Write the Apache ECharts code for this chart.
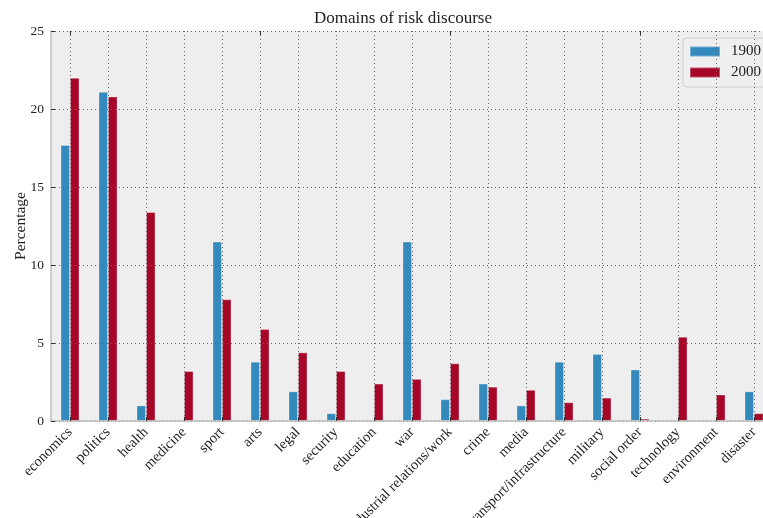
<!DOCTYPE html>
<html>
<head>
<meta charset="utf-8">
<script src="https://cdn.jsdelivr.net/npm/echarts@6/dist/echarts.min.js"></script>
<style>
  html, body { margin: 0; padding: 0; background: #ffffff; }
  #chart { width: 763px; height: 518px; }
</style>
</head>
<body>
<div id="chart"></div>
<script>
// Domains of risk discourse, share (%) per domain in 1900 and 2000
const categories = [
  'economics', 'politics', 'health', 'medicine', 'sport', 'arts', 'legal',
  'security', 'education', 'war', 'industrial relations/work', 'crime',
  'media', 'transport/infrastructure', 'military', 'social order',
  'technology', 'environment', 'disaster'
];
const values1900 = [17.7, 21.1, 1.0, 0, 11.5, 3.8, 1.9, 0.5, 0, 11.5, 1.4, 2.4, 1.0, 3.8, 4.3, 3.3, 0, 0, 1.9];
const values2000 = [22.0, 20.8, 13.4, 3.2, 7.8, 5.9, 4.4, 3.2, 2.4, 2.7, 3.7, 2.2, 2.0, 1.2, 1.5, 0.15, 5.4, 1.7, 0.5];
const seriesNames = ['1900', '2000'];
const yTicks = { min: 0, max: 25, interval: 5 };

const SERIF = '"Liberation Serif", "DejaVu Serif", serif';
const gridDots = { color: '#666666', width: 1, type: [1, 3] };

const chart = echarts.init(document.getElementById('chart'), null, { renderer: 'canvas' });

chart.setOption({
  backgroundColor: '#ffffff',
  animation: false,
  title: {
    text: 'Domains of risk discourse',
    left: 309,
    top: 5,
    textStyle: { fontFamily: SERIF, fontSize: 17, fontWeight: 'normal', color: '#222' }
  },
  legend: {
    orient: 'vertical',
    left: 683,
    top: 38,
    padding: [6, 40, 7, 6],
    itemGap: 6,
    itemWidth: 30,
    itemHeight: 10,
    icon: 'rect',
    backgroundColor: '#efefef',
    borderColor: '#cfcfcf',
    borderWidth: 1,
    borderRadius: 4,
    textStyle: { fontFamily: SERIF, fontSize: 15, color: '#222', padding: [0, 0, 0, 6] },
    data: seriesNames
  },
  grid: {
    left: 51,
    top: 31,
    width: 722,
    height: 390,
    outerBoundsMode: 'none',
    containLabel: false,
    show: true,
    backgroundColor: '#eeeeee',
    borderWidth: 0
  },
  xAxis: [
    {
      type: 'category',
      data: categories,
      z: 5,
      axisLine: { show: true, lineStyle: { color: '#bcbcbc', width: 1.5 } },
      axisTick: { show: true, inside: true, length: 4, alignWithLabel: true, lineStyle: { color: '#333' } },
      splitLine: { show: true, alignWithLabel: true, lineStyle: gridDots },
      axisLabel: {
        rotate: 45,
        interval: 0,
        margin: 9,
        fontFamily: SERIF,
        fontSize: 14.5,
        color: '#222'
      }
    },
    {
      type: 'category',
      data: categories,
      position: 'top',
      z: 5,
      axisLine: { show: false },
      axisTick: { show: true, inside: true, length: 4, alignWithLabel: true, lineStyle: { color: '#333' } },
      axisLabel: { show: false },
      splitLine: { show: false }
    }
  ],
  yAxis: {
    type: 'value',
    min: yTicks.min,
    max: yTicks.max,
    interval: yTicks.interval,
    name: 'Percentage',
    nameLocation: 'middle',
    nameGap: 22,
    nameMoveOverlap: false,
    nameTextStyle: { fontFamily: SERIF, fontSize: 15.5, color: '#222' },
    z: 5,
    axisLine: { show: true, lineStyle: { color: '#bcbcbc', width: 1.5 } },
    axisTick: { show: true, inside: true, length: 4, lineStyle: { color: '#333' } },
    splitLine: { show: true, lineStyle: gridDots },
    axisLabel: { fontFamily: SERIF, fontSize: 13.5, color: '#222', margin: 7 }
  },
  series: [
    {
      name: seriesNames[0],
      type: 'bar',
      data: values1900,
      barWidth: '25%',
      barGap: '0%',
      itemStyle: { color: '#348ABD', borderColor: 'rgba(255,255,255,0.3)', borderWidth: 1 }
    },
    {
      name: seriesNames[1],
      type: 'bar',
      data: values2000,
      barWidth: '25%',
      barGap: '0%',
      itemStyle: { color: '#A60628', borderColor: 'rgba(255,255,255,0.3)', borderWidth: 1 }
    }
  ]
});
</script>
</body>
</html>
